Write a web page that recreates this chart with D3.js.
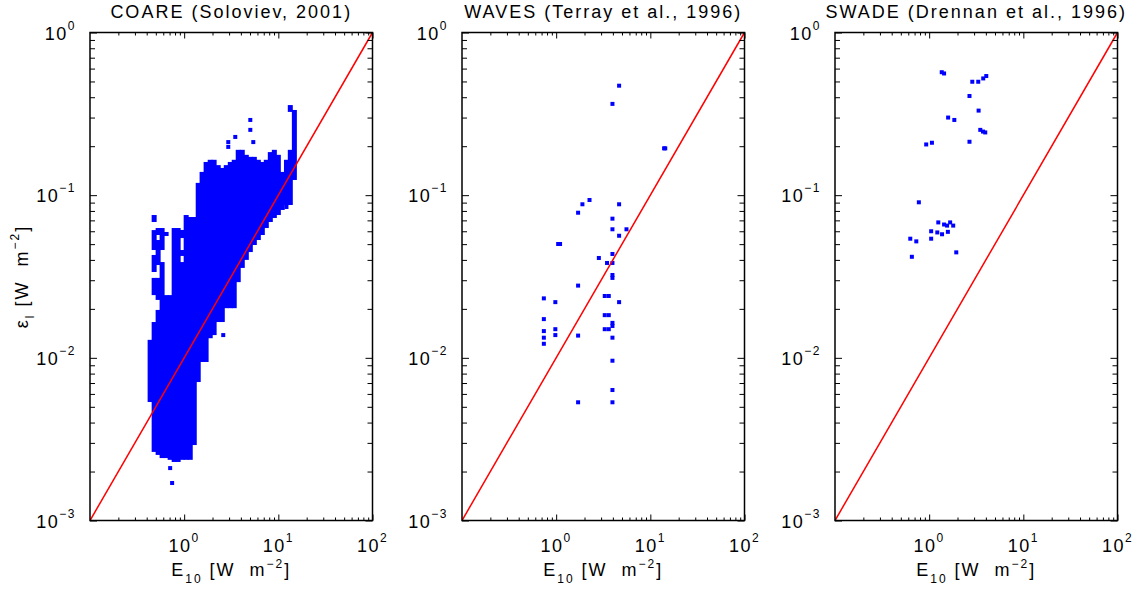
<!DOCTYPE html>
<html lang="en">
<head>
<meta charset="UTF-8">
<title>Dissipation vs E10</title>
<script src="https://d3js.org/d3.v7.min.js"></script>
<style>
  body { margin: 0; background: #fff; }
  svg text { font-family: "Liberation Sans", Arial, Helvetica, sans-serif; fill: #000; white-space: pre; }
</style>
</head>
<body>
<div id="chart"></div>
<script>
// panel titles
const titles = ["COARE (Soloviev, 2001)", "WAVES (Terray et al., 1996)", "SWADE (Drennan et al., 1996)"];

// tick labels (powers of ten)
const xTickExps = [0, 1, 2];
const yTickExps = [0, -1, -2, -3];

// COARE: the dense cloud read as vertical runs of points, E10 and eps range of each run
const coareE  = [0.435, 0.48, 0.48, 0.48, 0.48, 0.48, 0.529, 0.529, 0.529, 0.529,
                 0.583, 0.583, 0.643, 0.643, 0.71, 0.783, 0.863, 0.952, 0.952, 0.952,
                 1.05, 1.16, 1.28, 1.41, 1.55, 1.71, 1.89, 2.08, 2.30, 2.54,
                 2.80, 3.09, 3.40, 3.75, 4.14, 4.57, 5.04, 5.56, 6.13, 6.76,
                 7.45, 8.22, 9.07, 10.0, 11.0, 12.2, 13.4, 13.4, 14.8];
const coareLo = [0.00535, 0.0684, 0.046, 0.0337, 0.0243, 0.00264, 0.0569, 0.0372, 0.0227, 0.00253,
                 0.046, 0.00242, 0.0561, 0.00242, 0.00236, 0.00229, 0.00229, 0.0545, 0.0423, 0.00236,
                 0.00236, 0.00236, 0.00291, 0.0071, 0.00943, 0.00943, 0.0132, 0.0138, 0.0166, 0.0166,
                 0.0202, 0.0202, 0.0202, 0.0292, 0.0357, 0.040, 0.0447, 0.0494, 0.053, 0.0569,
                 0.0628, 0.0684, 0.0724, 0.0755, 0.0811, 0.087, 0.325, 0.087, 0.124];
const coareHi = [0.0129, 0.0755, 0.061, 0.0429, 0.031, 0.0166, 0.0628, 0.053, 0.031, 0.0197,
                 0.0628, 0.0388, 0.0594, 0.0243, 0.0243, 0.0628, 0.0628, 0.0611, 0.046, 0.0388,
                 0.0755, 0.0734, 0.0734, 0.119, 0.139, 0.160, 0.165, 0.165, 0.153, 0.147,
                 0.153, 0.160, 0.165, 0.190, 0.190, 0.177, 0.172, 0.172, 0.165, 0.160,
                 0.165, 0.184, 0.190, 0.177, 0.139, 0.165, 0.358, 0.190, 0.334];
// COARE: isolated points
const coareOutE   = [5.04, 5.04, 3.49, 2.94, 2.94, 5.42, 0.71, 0.745, 2.60, 12.2];
const coareOutEps = [0.29, 0.252, 0.228, 0.212, 0.198, 0.212, 0.0021, 0.0017, 0.0138, 0.0846];

// WAVES points
const wavesE   = [4.66, 3.96, 14.0, 14.4, 2.26, 1.9, 4.66, 1.71, 3.96, 3.96,
                  5.58, 4.66, 1.05, 1.1, 3.96, 2.84, 3.47, 3.96, 3.96, 3.96,
                  1.71, 3.28, 3.62, 0.74, 0.98, 4.66, 3.28, 3.62, 0.74, 3.96,
                  3.96, 3.28, 3.62, 0.74, 0.98, 0.98, 1.71, 3.96, 0.74, 0.74,
                  3.96, 3.96, 1.71, 3.96];
const wavesEps = [0.471, 0.364, 0.194, 0.194, 0.0934, 0.0879, 0.0879, 0.078, 0.0717, 0.0617,
                  0.0617, 0.0563, 0.0501, 0.0501, 0.0435, 0.0411, 0.0383, 0.0383, 0.0323, 0.031,
                  0.0278, 0.024, 0.024, 0.0232, 0.022, 0.022, 0.0183, 0.0183, 0.0173, 0.0164,
                  0.0157, 0.015, 0.015, 0.0146, 0.015, 0.0138, 0.0137, 0.0133, 0.0133, 0.0122,
                  0.0096, 0.00634, 0.00533, 0.00533];

// SWADE points
const swadeE   = [1.36, 1.44, 2.87, 3.32, 3.75, 4.04, 2.68, 3.35, 1.59, 1.85,
                  3.49, 3.73, 3.94, 2.68, 0.93, 1.07, 0.777, 1.25, 1.44, 1.55,
                  1.80, 1.67, 1.05, 1.22, 1.37, 1.58, 0.63, 0.73, 1.05, 1.94, 0.655];
const swadeEps = [0.57, 0.56, 0.498, 0.498, 0.522, 0.540, 0.407, 0.331, 0.30, 0.29,
                  0.252, 0.246, 0.243, 0.213, 0.205, 0.210, 0.0904, 0.068, 0.066, 0.065,
                  0.065, 0.068, 0.060, 0.059, 0.0575, 0.0595, 0.054, 0.052, 0.054, 0.0445, 0.0418];

const W = 1139, H = 590;
const plotTop = 32.5, plotBottom = 520.5, pw = 282.5;
const lefts = [90, 462, 835];
const blue = "#0000ff", red = "#ff0000";
const ms = 4; // marker size

const svg = d3.select("#chart").append("svg").attr("width", W).attr("height", H);

function decadeMinors(exps) {
  const out = [];
  exps.forEach(e => { for (let k = 2; k <= 9; k++) out.push(k * Math.pow(10, e)); });
  return out;
}
const xMinor = decadeMinors([-1, 0, 1]);
const yMinor = decadeMinors([-3, -2, -1]);
const xMajor = xTickExps.map(e => Math.pow(10, e));
const yMajor = yTickExps.map(e => Math.pow(10, e));

function tickSet(g, axis, vals, size, tr) {
  g.append("g").attr("transform", tr)
    .call(axis.tickValues(vals).tickSize(size).tickFormat(""))
    .call(a => a.select(".domain").remove())
    .selectAll("line").attr("stroke", "#000").attr("stroke-width", 1);
}

lefts.forEach((left, i) => {
  const x = d3.scaleLog().domain([0.1, 100]).range([left, left + pw]);
  const y = d3.scaleLog().domain([0.001, 1]).range([plotBottom, plotTop]);
  const g = svg.append("g");

  g.append("clipPath").attr("id", "clip" + i)
    .append("rect").attr("x", left).attr("y", plotTop).attr("width", pw).attr("height", plotBottom - plotTop);
  const plot = g.append("g").attr("clip-path", `url(#clip${i})`);

  if (i === 0) {
    plot.selectAll("rect.run").data(coareE).enter().append("rect")
      .attr("class", "run")
      .attr("x", d => x(d) - 2.5)
      .attr("width", 5)
      .attr("y", (d, j) => y(coareHi[j]))
      .attr("height", (d, j) => Math.max(ms, y(coareLo[j]) - y(coareHi[j])))
      .attr("fill", blue);
    plot.selectAll("rect.pt").data(coareOutE).enter().append("rect")
      .attr("class", "pt")
      .attr("x", d => x(d) - ms / 2)
      .attr("y", (d, j) => y(coareOutEps[j]) - ms / 2)
      .attr("width", ms).attr("height", ms)
      .attr("fill", blue);
  } else {
    const es = i === 1 ? wavesE : swadeE;
    const ps = i === 1 ? wavesEps : swadeEps;
    plot.selectAll("rect.pt").data(es).enter().append("rect")
      .attr("class", "pt")
      .attr("x", d => x(d) - ms / 2)
      .attr("y", (d, j) => y(ps[j]) - ms / 2)
      .attr("width", ms).attr("height", ms)
      .attr("fill", blue);
  }

  // eps = 0.01 * E10 reference line
  plot.append("line")
    .attr("x1", x(0.1)).attr("y1", y(0.001))
    .attr("x2", x(100)).attr("y2", y(1))
    .attr("stroke", red).attr("stroke-width", 1.5);

  // inward ticks on all four sides
  tickSet(g, d3.axisBottom(x), xMinor, -3, `translate(0,${plotBottom})`);
  tickSet(g, d3.axisBottom(x), xMajor, -6, `translate(0,${plotBottom})`);
  tickSet(g, d3.axisTop(x), xMinor, -3, `translate(0,${plotTop})`);
  tickSet(g, d3.axisTop(x), xMajor, -6, `translate(0,${plotTop})`);
  tickSet(g, d3.axisLeft(y), yMinor, -5, `translate(${left},0)`);
  tickSet(g, d3.axisLeft(y), yMajor, -7, `translate(${left},0)`);
  tickSet(g, d3.axisRight(y), yMinor, -5, `translate(${left + pw},0)`);
  tickSet(g, d3.axisRight(y), yMajor, -7, `translate(${left + pw},0)`);

  g.append("rect")
    .attr("x", left).attr("y", plotTop).attr("width", pw).attr("height", plotBottom - plotTop)
    .attr("fill", "none").attr("stroke", "#000").attr("stroke-width", 1.5);

  // x tick labels
  xTickExps.forEach(e => {
    const t = g.append("text")
      .attr("x", x(Math.pow(10, e)))
      .attr("y", plotBottom + 31)
      .attr("text-anchor", "middle")
      .attr("font-size", 18)
      .attr("letter-spacing", 1.5);
    t.append("tspan").text("10");
    t.append("tspan").attr("dy", -10).attr("font-size", 12).text(String(e));
  });

  // y tick labels
  yTickExps.forEach(e => {
    const t = g.append("text")
      .attr("x", left - 14)
      .attr("y", y(Math.pow(10, e)) + 7)
      .attr("text-anchor", "end")
      .attr("font-size", 18)
      .attr("letter-spacing", 1.5);
    t.append("tspan").text("10");
    t.append("tspan").attr("dy", -10).attr("font-size", 12)
      .text(e === 0 ? "0" : "\u2212" + Math.abs(e));
  });

  // title
  g.append("text")
    .attr("x", left + pw / 2).attr("y", 18)
    .attr("text-anchor", "middle")
    .attr("font-size", 18)
    .attr("letter-spacing", 2)
    .text(titles[i]);

  // x label
  const xl = g.append("text")
    .attr("x", left + pw / 2).attr("y", 576)
    .attr("text-anchor", "middle")
    .attr("font-size", 18)
    .attr("letter-spacing", 2);
  xl.append("tspan").text("E");
  xl.append("tspan").attr("dy", 7).attr("font-size", 12).text("10");
  xl.append("tspan").attr("dy", -7).text(" [W  m");
  xl.append("tspan").attr("dy", -8).attr("font-size", 12).text("\u22122");
  xl.append("tspan").attr("dy", 8).text("]");
});

// y label on first panel
const yl = svg.append("text")
  .attr("transform", `translate(28,${(plotTop + plotBottom) / 2}) rotate(-90)`)
  .attr("text-anchor", "middle")
  .attr("font-size", 18)
  .attr("letter-spacing", 2);
yl.append("tspan").text("\u03b5");
yl.append("tspan").attr("dy", 6).attr("font-size", 12).text("l");
yl.append("tspan").attr("dy", -6).text(" [W  m");
yl.append("tspan").attr("dy", -9).attr("font-size", 12).text("\u22122");
yl.append("tspan").attr("dy", 9).text("]");
</script>
</body>
</html>
